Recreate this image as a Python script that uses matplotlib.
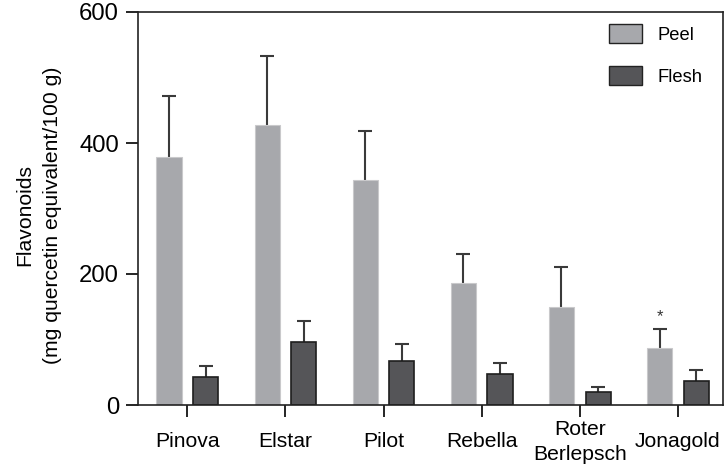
import matplotlib
matplotlib.use("Agg")
import matplotlib.pyplot as plt
import numpy as np
from matplotlib.patches import Patch

plt.rcParams['font.family'] = ['Liberation Sans', 'DejaVu Sans']

categories = ["Pinova", "Elstar", "Pilot", "Rebella", "Roter\nBerlepsch", "Jonagold"]
peel = [378, 428, 344, 187, 150, 87]
peel_err = [94, 105, 74, 44, 61, 29]
flesh = [42, 96, 67, 48, 20, 37]
flesh_err = [18, 33, 26, 16, 8, 16]
asterisk_idx = [5]

fig = plt.figure(figsize=(7.26, 4.65), dpi=100)
ax = fig.add_axes([138/726, 1-405/465, (723-138)/726, (405-12)/465])

x = np.arange(len(categories))
w = 0.255
off = 0.187
peel_col = "#a7a8ac"
flesh_col = "#555558"


def upper_errorbar(xs, ys, errs):
    eb = ax.errorbar(xs, ys, yerr=[np.zeros(len(ys)), errs], fmt='none',
                     ecolor="#3a3a3a", elinewidth=1.5, capsize=4.7, capthick=1.5, zorder=1)
    for cl in eb[1]:
        if np.allclose(cl.get_ydata(), ys):
            cl.set_visible(False)


upper_errorbar(x - off, peel, peel_err)
upper_errorbar(x + off, flesh, flesh_err)
ax.bar(x - off, peel, w, color=peel_col, edgecolor="#c9c9cb", linewidth=0.8, zorder=2)
ax.bar(x + off, flesh, w, color=flesh_col, edgecolor="#1e1e1e", linewidth=1.2, zorder=2)

for i in asterisk_idx:
    ax.text(x[i] - off, peel[i] + peel_err[i] + 8, "*", ha="center", va="bottom",
            fontsize=12, color="#333333")

ax.set_ylim(0, 600)
ax.set_xlim(-0.503, 5.46)
ax.set_yticks([0, 200, 400, 600])
ax.set_xticks(x)
ax.set_xticklabels(categories)
ax.tick_params(axis='y', labelsize=17.2, length=8.6, width=1.2, direction='out', pad=5)
ax.tick_params(axis='x', labelsize=15.2, length=8.6, width=1.2, direction='out', pad=18)
for lab in ax.get_xticklabels():
    lab.set_va('center')
    lab.set_linespacing(1.35)

for s in ax.spines.values():
    s.set_linewidth(1.2)
    s.set_color("#222222")

ax.set_ylabel("Flavonoids\n(mg quercetin equivalent/100 g)", fontsize=15.2, linespacing=1.6)
ax.yaxis.set_label_coords(-76/585, 0.483)

handles = [Patch(facecolor=peel_col, edgecolor="#222222", linewidth=1.0, label="Peel"),
           Patch(facecolor=flesh_col, edgecolor="#222222", linewidth=1.0, label="Flesh")]
fig.legend(handles=handles, loc="upper left", bbox_to_anchor=(609/726, 1-24/465),
           frameon=False, fontsize=13.2, handlelength=1.8, handleheight=1.25,
           labelspacing=1.2, handletextpad=0.85, borderpad=0, borderaxespad=0)

fig.savefig("out.png", dpi=100)
